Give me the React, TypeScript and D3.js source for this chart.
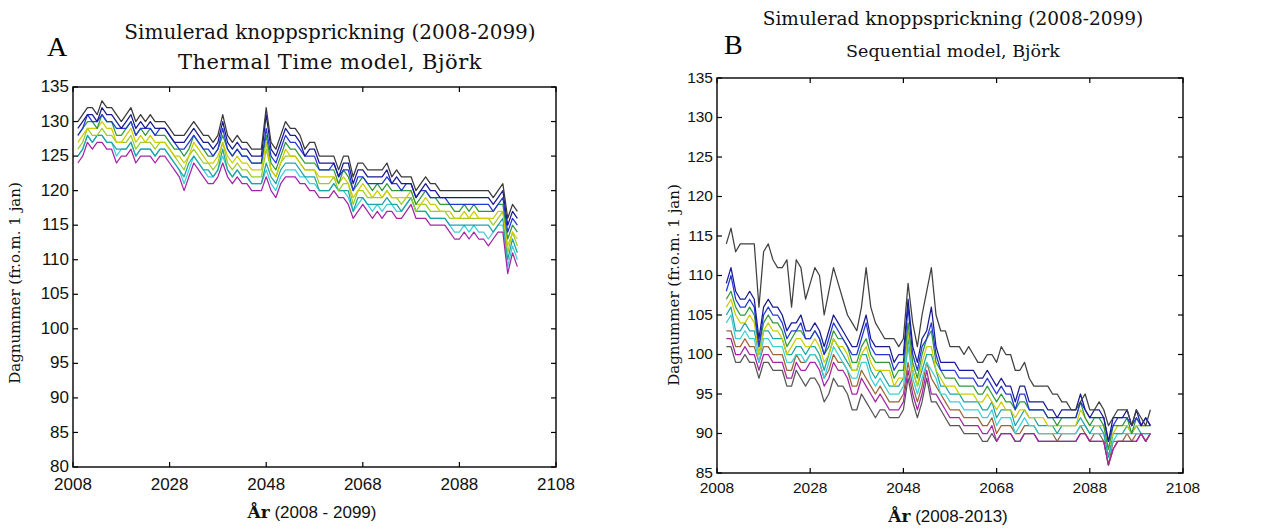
import React from "react";
import * as d3 from "d3";

// ---------- Panel A: Thermal Time model (years 2009..2100) ----------
const YEARS_A = d3.range(2009, 2101);
const A_BLACK = [130,131,132,132,131,133,132,132,131,130,131,132,130,131,130,131,130,130,130,129,128,128,128,129,130,129,128,128,127,128,131,128,127,128,127,127,126,126,126,132,127,126,128,130,129,129,128,126,127,127,125,125,125,125,123,125,125,122,124,124,123,123,123,123,124,122,123,122,122,122,120,121,122,121,121,120,120,120,120,120,120,120,120,120,120,120,119,120,121,116,118,117];
const A_NAVY = [129,130,131,131,130,132,131,131,130,129,130,131,129,130,129,130,129,129,129,128,127,127,127,128,129,128,127,127,126,127,130,127,126,127,126,126,125,125,125,131,126,125,127,129,128,128,127,125,126,126,124,124,124,124,122,124,124,121,123,123,122,122,122,122,123,121,122,121,121,121,119,120,121,120,120,119,119,119,119,119,119,119,119,119,119,119,118,119,120,115,117,116];
const A_BLUE = [128,129,131,130,130,131,130,130,129,129,129,130,128,129,129,129,128,129,129,128,127,126,126,127,128,127,126,126,125,126,129,126,125,126,125,125,124,124,124,129,125,124,126,128,127,127,126,125,125,125,123,123,123,124,122,123,123,120,122,122,121,121,121,121,122,121,121,120,121,121,119,120,120,119,119,119,119,118,118,118,118,118,118,118,118,118,117,118,119,114,116,115];
const A_GREEN = [128,129,130,130,129,131,130,130,128,128,129,130,128,129,128,129,128,128,128,127,126,126,125,126,128,127,126,125,125,126,128,126,125,126,125,125,124,124,124,128,124,123,125,127,126,126,125,124,124,124,123,123,123,123,121,123,122,120,121,122,121,120,121,120,121,120,120,120,120,120,118,119,120,119,119,118,118,118,117,117,118,117,118,117,117,117,117,118,118,113,115,114];
const A_YELLOW = [127,128,129,129,129,130,129,129,127,127,128,129,127,128,127,128,127,127,127,126,125,125,124,125,127,126,125,124,124,125,127,125,124,125,124,124,123,123,123,127,123,122,124,126,125,125,124,123,123,123,122,122,122,122,121,122,121,119,120,121,120,119,120,119,120,119,119,119,119,120,118,118,119,118,118,117,117,117,116,116,117,116,117,116,116,116,116,117,117,112,114,113];
const A_YGREEN = [126,127,129,128,128,129,128,128,127,127,127,128,126,127,127,127,126,127,127,126,125,124,123,125,126,125,124,124,123,124,127,124,123,124,123,123,122,122,122,126,123,122,124,125,125,125,124,123,123,123,121,121,121,122,120,121,121,118,120,120,119,119,119,119,120,119,119,118,119,119,117,118,118,117,117,117,117,116,116,116,116,116,116,116,116,116,115,116,117,111,114,112];
const A_TEAL = [125,126,128,127,128,128,127,127,126,126,126,127,125,126,126,126,125,126,126,125,124,123,122,124,125,124,123,123,122,123,126,123,122,123,122,122,121,121,121,124,122,121,123,124,124,124,123,122,122,122,120,120,120,121,120,120,120,117,119,119,118,118,118,118,119,118,118,117,118,119,117,117,117,116,116,116,116,115,115,115,115,115,115,115,115,115,114,115,116,110,113,111];
const A_CYAN = [125,126,128,127,128,128,127,127,125,126,126,127,125,126,126,126,125,126,126,125,124,123,121,123,125,124,123,122,122,123,125,123,122,123,122,122,121,121,121,123,121,120,122,123,123,123,122,122,121,121,120,120,120,121,120,120,119,117,118,119,118,117,118,117,118,118,117,117,118,119,117,117,117,116,116,116,116,115,114,114,115,114,115,114,114,113,114,115,115,109,112,110];
const A_MAGENTA = [124,125,127,126,127,127,126,126,124,125,125,126,124,125,125,125,124,125,125,124,123,122,120,122,124,123,122,121,121,122,124,122,121,122,121,121,120,120,120,122,120,119,121,122,122,122,121,121,120,120,119,119,119,120,119,119,118,116,117,118,117,116,117,116,117,117,116,116,117,118,116,116,116,115,115,115,115,114,113,113,114,113,114,113,113,112,113,114,114,108,111,109];

// ---------- Panel B: Sequential model (years 2010..2101) ----------
const YEARS_B = d3.range(2010, 2102);
const B_BLACK = [114,116,113,114,114,114,114,106,113,114,112,111,111,112,106,112,111,107,109,111,110,105,108,111,109,107,105,104,103,106,111,106,104,103,102,102,102,101,102,109,104,101,105,108,111,105,103,103,101,101,101,100,101,100,99,99,100,100,99,101,100,100,98,98,99,97,96,96,96,96,95,95,94,94,93,93,94,95,93,93,94,93,91,92,93,93,93,91,93,92,91,93];
const B_NAVY = [109,111,108,107,107,108,107,102,106,107,106,106,105,103,104,104,105,103,103,104,103,101,103,105,104,103,102,101,101,103,105,102,101,101,101,101,99,100,100,107,101,99,102,103,106,101,99,99,99,99,98,98,98,98,97,97,98,97,96,97,96,96,94,96,96,94,94,94,94,93,93,92,93,93,93,93,95,93,92,93,93,92,89,92,92,92,93,91,93,91,92,91];
const B_BLUE = [108,110,107,106,106,107,106,101,105,106,105,105,104,102,103,103,104,102,102,103,102,100,102,104,103,102,101,100,100,102,104,101,100,100,100,100,98,99,99,106,100,98,101,102,104,100,98,98,98,98,97,97,97,97,96,96,97,96,95,96,95,95,93,95,95,93,93,93,93,92,92,92,92,92,92,92,94,93,92,92,92,92,89,91,92,92,92,91,92,91,92,91];
const B_GREEN = [107,108,106,105,105,106,105,101,104,105,104,104,103,101,102,103,103,102,102,103,102,100,101,103,102,102,101,99,99,101,102,100,99,99,99,99,97,98,98,104,99,97,100,102,103,99,98,97,97,97,96,96,96,96,95,95,96,95,94,95,94,94,93,94,94,93,93,93,93,92,92,91,92,92,92,92,94,92,91,92,92,91,88,91,91,91,92,90,92,91,91,91];
const B_YELLOW = [106,107,105,104,104,105,104,100,103,104,103,103,102,100,101,102,102,101,101,102,101,99,100,102,101,101,100,98,98,100,101,99,98,98,98,98,96,97,97,103,98,96,99,101,101,98,97,96,96,96,95,95,95,95,94,94,95,94,93,94,93,93,92,93,93,92,92,92,92,91,91,91,91,91,91,91,93,92,91,91,91,91,88,90,91,91,91,90,91,91,91,91];
const B_TEAL = [105,106,103,103,104,103,103,100,103,103,102,102,102,100,100,101,101,100,101,101,100,98,100,102,101,100,99,98,98,100,100,98,97,98,97,96,96,96,97,102,98,96,98,100,100,98,96,96,95,95,95,94,94,94,94,93,93,94,92,93,93,93,91,92,93,92,92,91,91,91,91,90,91,91,91,91,92,91,90,91,91,90,87,90,90,90,91,90,91,90,90,90];
const B_CYAN = [104,105,102,102,103,102,102,99,102,102,101,101,101,99,99,100,100,99,100,100,99,97,99,101,100,99,98,97,97,99,99,97,96,97,96,95,95,95,96,101,97,95,97,99,98,97,95,95,94,94,94,93,93,93,93,92,92,93,91,92,92,92,90,91,92,91,91,90,90,90,90,90,90,90,90,90,91,91,90,90,90,90,87,89,90,90,90,90,90,90,90,90];
const B_BROWN = [103,103,101,101,102,101,101,99,101,101,100,100,100,98,98,100,99,99,100,100,99,97,98,100,99,99,98,96,96,98,97,96,95,96,95,94,94,94,95,99,96,94,96,99,97,96,95,94,93,93,93,92,92,92,92,91,91,92,90,91,91,91,90,90,91,91,91,90,90,90,90,89,90,90,90,90,91,90,89,90,90,89,86,89,89,89,90,89,90,90,89,90];
const B_MAGENTA = [102,102,100,100,101,100,100,98,100,100,99,99,99,97,97,99,98,98,99,99,98,96,97,99,98,98,97,95,95,97,96,95,94,95,94,93,93,93,94,98,95,93,95,98,95,95,94,93,92,92,92,91,91,91,91,90,90,91,89,90,90,90,89,89,90,90,90,89,89,89,89,89,89,89,89,89,90,90,89,89,89,89,86,88,89,89,89,89,89,90,89,90];
const B_GRAY = [101,101,99,99,100,99,99,97,99,99,98,98,98,96,96,98,97,96,97,97,96,94,95,97,96,96,95,93,93,95,94,93,92,93,93,92,92,92,93,97,94,92,94,97,94,94,93,92,91,91,91,90,90,90,90,89,89,90,89,90,90,90,89,89,90,90,90,89,89,89,89,89,89,89,89,89,90,90,89,89,89,89,86,88,89,89,89,89,89,90,89,90];

// ---------- Ticks and texts ----------
const X_TICKS = [2008, 2028, 2048, 2068, 2088, 2108];
const A_Y_TICKS = [80, 85, 90, 95, 100, 105, 110, 115, 120, 125, 130, 135];
const B_Y_TICKS = [85, 90, 95, 100, 105, 110, 115, 120, 125, 130, 135];
const TITLE_1 = "Simulerad knoppsprickning (2008-2099)";
const A_TITLE_2 = "Thermal Time model, Björk";
const B_TITLE_2 = "Sequential model, Björk";
const Y_LABEL = "Dagnummer (fr.o.m. 1 jan)";
const A_X_LABEL = " (2008 - 2099)";
const B_X_LABEL = " (2008-2013)";

type S = { values: number[]; color: string };

const A_SERIES: S[] = [
  { values: A_CYAN, color: "#3ccfd8" },
  { values: A_TEAL, color: "#1fa3a8" },
  { values: A_YGREEN, color: "#9ccc2a" },
  { values: A_YELLOW, color: "#cfcc00" },
  { values: A_MAGENTA, color: "#a424a8" },
  { values: A_GREEN, color: "#2f9a3a" },
  { values: A_BLUE, color: "#2436d8" },
  { values: A_NAVY, color: "#181a90" },
  { values: A_BLACK, color: "#383838" },
];

const B_SERIES: S[] = [
  { values: B_GRAY, color: "#555555" },
  { values: B_BROWN, color: "#9a6434" },
  { values: B_CYAN, color: "#3ccfd8" },
  { values: B_TEAL, color: "#1fa3a8" },
  { values: B_YELLOW, color: "#cfcc00" },
  { values: B_MAGENTA, color: "#a424a8" },
  { values: B_GREEN, color: "#2f9a3a" },
  { values: B_BLUE, color: "#2436d8" },
  { values: B_NAVY, color: "#181a90" },
  { values: B_BLACK, color: "#404040" },
];

type PanelProps = {
  left: number; right: number; top: number; bottom: number;
  yDomain: [number, number]; yTicks: number[]; years: number[]; series: S[];
  title2: string; titleX: number; titleY1: number; titleY2: number; titleSize: number;
  title2Size: number; title2Spacing: number;
  letter: string; letterX: number; letterY: number;
  xLabel: string; xLabelX: number; xLabelY: number;
  yLabelX: number; yLabelY: number; tickSize: number; xTickDy: number;
};

function Panel(p: PanelProps) {
  const x = d3.scaleLinear().domain([2008, 2108]).range([p.left, p.right]);
  const y = d3.scaleLinear().domain(p.yDomain).range([p.bottom, p.top]);
  const line = d3
    .line<number>()
    .x((_, i) => x(p.years[i]))
    .y((d) => y(d));
  const tl = 5;
  const tickFont = "'Liberation Sans', Arial, sans-serif";
  const serif = "'DejaVu Serif', serif";
  return (
    <g>
      {p.series.map((s, i) => (
        <path key={i} d={line(s.values) || ""} fill="none" stroke={s.color} strokeWidth={1.25} strokeLinejoin="round" />
      ))}
      <rect x={p.left} y={p.top} width={p.right - p.left} height={p.bottom - p.top} fill="none" stroke="#000" strokeWidth={1.4} />
      {X_TICKS.map((t) => (
        <g key={"x" + t}>
          <line x1={x(t)} x2={x(t)} y1={p.bottom} y2={p.bottom - tl} stroke="#000" strokeWidth={1.2} />
          <line x1={x(t)} x2={x(t)} y1={p.top} y2={p.top + tl} stroke="#000" strokeWidth={1.2} />
          <text x={x(t)} y={p.bottom + p.xTickDy} textAnchor="middle" fontFamily={tickFont} fontSize={p.tickSize} fill="#111">{t}</text>
        </g>
      ))}
      {p.yTicks.map((t) => (
        <g key={"y" + t}>
          <line x1={p.left} x2={p.left + tl} y1={y(t)} y2={y(t)} stroke="#000" strokeWidth={1.2} />
          <line x1={p.right} x2={p.right - tl} y1={y(t)} y2={y(t)} stroke="#000" strokeWidth={1.2} />
          <text x={p.left - 4} y={y(t)} dy="0.3em" textAnchor="end" fontFamily={tickFont} fontSize={p.tickSize} fill="#111">{t}</text>
        </g>
      ))}
      <text x={p.titleX} y={p.titleY1} textAnchor="middle" fontFamily={serif} fontSize={p.titleSize} fill="#111">{TITLE_1}</text>
      <text x={p.titleX} y={p.titleY2} textAnchor="middle" fontFamily={serif} fontSize={p.title2Size} letterSpacing={p.title2Spacing} fill="#111">{p.title2}</text>
      <text x={p.letterX} y={p.letterY} fontFamily="'Liberation Serif', serif" fontSize={28} fill="#000">{p.letter}</text>
      <text x={p.xLabelX} y={p.xLabelY} textAnchor="middle" fontSize={17} fill="#111">
        <tspan fontFamily={serif} fontWeight="bold">År</tspan>
        <tspan fontFamily={tickFont}>{p.xLabel}</tspan>
      </text>
      <text transform={`translate(${p.yLabelX},${p.yLabelY}) rotate(-90)`} textAnchor="middle" fontFamily={serif} fontSize={15} fill="#111">{Y_LABEL}</text>
    </g>
  );
}

export default function App() {
  return (
    <svg width={1267} height={529} style={{ position: "absolute", left: 0, top: 0, background: "#fff" }}>
      <rect x={0} y={0} width={1267} height={529} fill="#fff" />
      <Panel left={73} right={556} top={87} bottom={467} yDomain={[80, 135]} yTicks={A_Y_TICKS} years={YEARS_A} series={A_SERIES}
        title2={A_TITLE_2} titleX={330} titleY1={39} titleY2={69} titleSize={20} title2Size={21} title2Spacing={0.5}
        letter="A" letterX={47} letterY={56}
        xLabel={A_X_LABEL} xLabelX={312} xLabelY={518} yLabelX={20} yLabelY={283} tickSize={17} xTickDy={23} />
      <Panel left={717} right={1183} top={78} bottom={473} yDomain={[85, 135]} yTicks={B_Y_TICKS} years={YEARS_B} series={B_SERIES}
        title2={B_TITLE_2} titleX={953} titleY1={25} titleY2={57} titleSize={18.5} title2Size={17.5} title2Spacing={0}
        letter="B" letterX={724} letterY={54}
        xLabel={B_X_LABEL} xLabelX={948} xLabelY={522} yLabelX={679} yLabelY={285} tickSize={15.5} xTickDy={20} />
    </svg>
  );
}
